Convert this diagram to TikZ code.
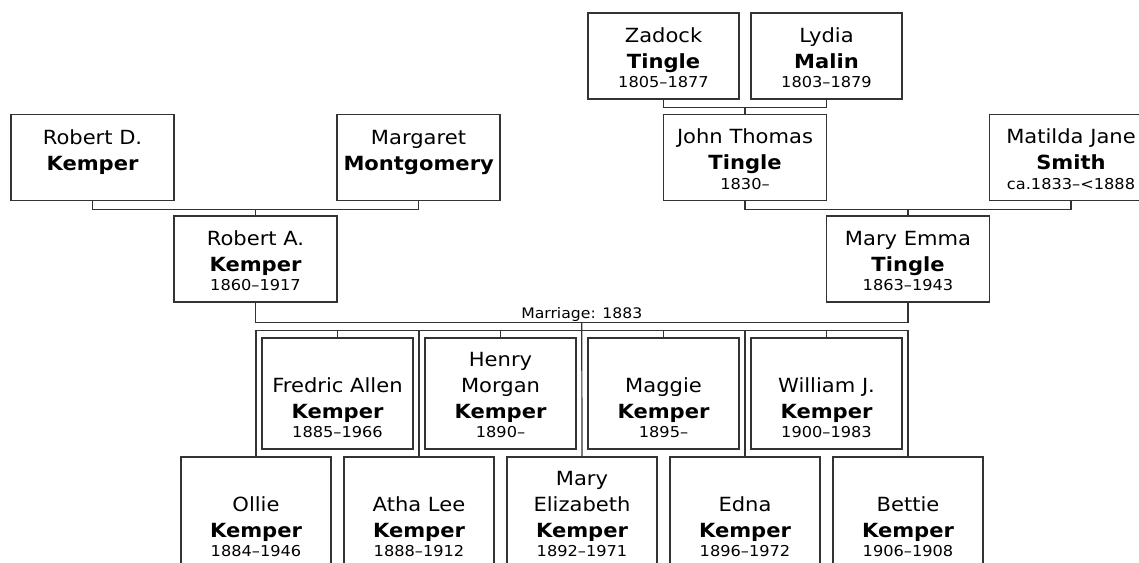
\documentclass[tikz,border=0pt]{standalone}
\usepackage{fontspec}
\setmainfont{DejaVu Sans}[FakeStretch=1.08]
\usetikzlibrary{calc}
\definecolor{inkline}{HTML}{333333}
\newcommand\namefont{\fontsize{19.5}{26}\selectfont}
\newcommand\yrsfont{\fontsize{15}{17}\selectfont}
% name card: box height, given names, surname, years
\newcommand\card[4]{\parbox[c][#1][b]{150pt}{\centering\namefont #2\\\textbf{#3}\\[-6.5pt]{\yrsfont #4}}}

\begin{document}
\begin{tikzpicture}[x=1pt, y=-1pt,
    person/.style={draw=inkline, line width=1.2pt, fill=white, inner sep=0pt},
    elder/.style={person, minimum width=163, minimum height=86},
    child/.style={person, minimum width=151, minimum height=111},
    link/.style={draw=inkline, line width=1.2pt}]
    \clip (0,0) rectangle (1139,562);
    % grandparents and parents
    \node[elder, minimum width=151] (zadock) at (663.5,56) {\card{64pt}{Zadock}{Tingle}{1805--1877}};
    \node[elder, minimum width=151] (lydia) at (826.5,56) {\card{64pt}{Lydia}{Malin}{1803--1879}};
    \node[elder] (robertD) at (92.5,157.5) {\card{64pt}{Robert D.}{Kemper}{\mbox{}}};
    \node[elder] (margaret) at (418.5,157.5) {\card{64pt}{Margaret}{Montgomery}{\mbox{}}};
    \node[elder] (john) at (745,157.5) {\card{64pt}{John Thomas}{Tingle}{1830--}};
    \node[elder] (matilda) at (1071,157.5) {\card{64pt}{Matilda Jane}{Smith}{ca.1833--<1888}};
    \node[elder] (robertA) at (255.5,259) {\card{64pt}{Robert A.}{Kemper}{1860--1917}};
    \node[elder] (maryEmma) at (908,259) {\card{64pt}{Mary Emma}{Tingle}{1863--1943}};
    % children
    \foreach \id/\x/\given/\yrs in {fredric/337.5/Fredric Allen/1885--1966,
        henry/500.5/{Henry\\Morgan}/1890--, maggie/663.5/Maggie/1895--,
        william/826.5/William J./1900--1983}
      \node[child] (\id) at (\x,393.5) {\card{89pt}{\given}{Kemper}{\yrs}};
    \foreach \id/\x/\given/\yrs in {ollie/256/Ollie/1884--1946,
        athaLee/419/Atha Lee/1888--1912, maryEliz/582/{Mary\\Elizabeth}/1892--1971,
        edna/745/Edna/1896--1972, bettie/908/Bettie/1906--1908}
      \node[child, minimum width=150] (\id) at (\x,512.5) {\card{89pt}{\given}{Kemper}{\yrs}};
    % brackets
    \coordinate (tp) at ($(zadock.south)!0.5!(lydia.south)+(0,8)$);
    \coordinate (kp) at ($(robertD.south)!0.5!(margaret.south)+(0,8)$);
    \coordinate (mp) at ($(john.south)!0.5!(matilda.south)+(0,8)$);
    \draw[link] (zadock.south) |- (tp) -| (lydia.south);
    \draw[link] (tp) -- (john.north);
    \draw[link] (robertD.south) |- (kp) -| (margaret.south);
    \draw[link] (kp) -- (robertA.north);
    \draw[link] (john.south) |- (mp) -| (matilda.south);
    \draw[link] (mp) -- (maryEmma.north);
    % marriage and children
    \coordinate (wed) at ($(robertA.south)!0.5!(maryEmma.south)+(0,20)$);
    \coordinate (bus) at ($(wed)+(0,8)$);
    \draw[link] (robertA.south) |- (wed) -| (maryEmma.south);
    \node[anchor=base, font=\fontsize{14.5}{16}\selectfont, inner sep=0pt] (wedlabel)
      at ($(wed)+(0,-4.5)$) {Marriage: 1883};
    \draw[link] (wed) -- (maryEliz.north);
    \draw[link] (ollie.north) |- (bus -| bettie.north) -- (bettie.north);
    \foreach \id in {athaLee,edna,fredric,henry,maggie,william}
      \draw[link] (\id.north) -- (\id.north |- bus);
\end{tikzpicture}
\end{document}
